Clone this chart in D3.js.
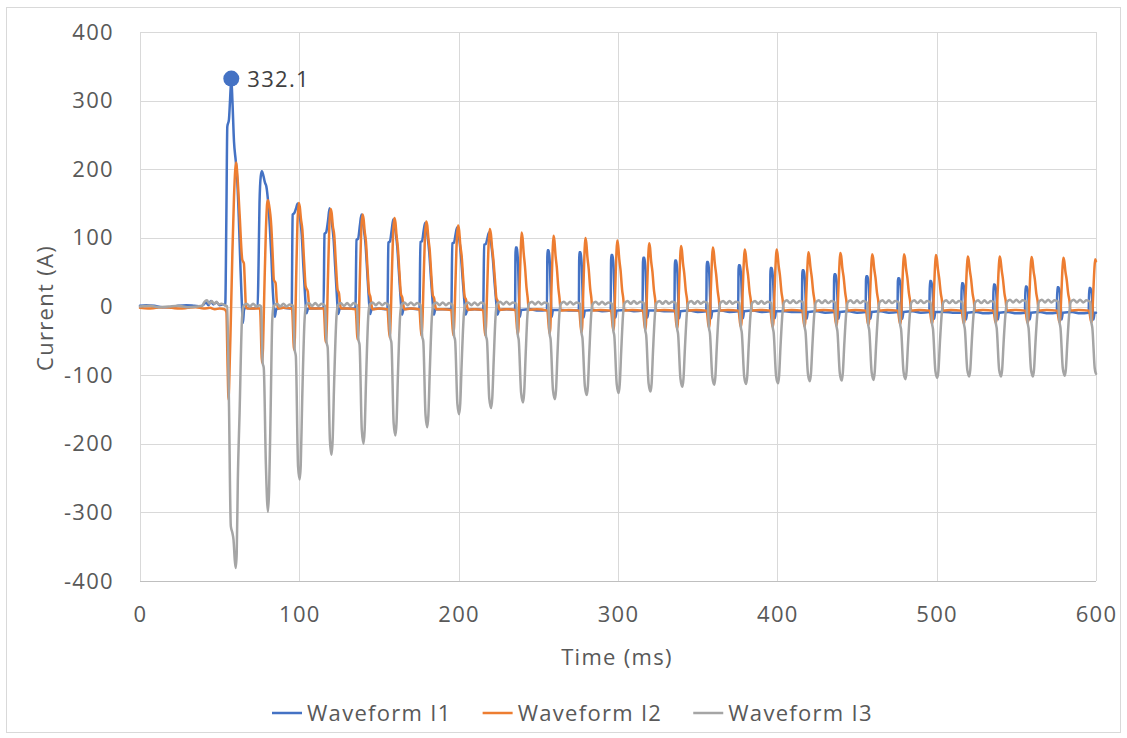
<!DOCTYPE html>
<html><head><meta charset="utf-8">
<script src="https://cdn.jsdelivr.net/npm/d3@7"></script>
<style>body{margin:0;background:#fff;} svg{display:block;font-family:"Open Sans",sans-serif;}</style>
</head><body><svg id="c" width="1127" height="738"></svg>
<script>
const seriesNames = ["Waveform I1","Waveform I2","Waveform I3"];
const xTicks = [0,100,200,300,400,500,600];
const yTicks = [-400,-300,-200,-100,0,100,200,300,400];
const peakPoint = [57.3, 332.1];

const i1 = [[0,1],[4,2],[9,1],[14,-1],[19,-1],[24,1],[29,2],[34,1],[38,0],[40,3],[41.5,6],[43,2],[44.5,8],[46,3],[48,6],[50,2],[52,3],[53.5,2],
[54.2,130],[54.8,262],[55.8,272],[56.5,300],[57.3,332.1],[58,300],[59,240],[60.1,212],[61,185],[62,130],[63,60],[64,0],[64.6,-24],[65.3,-5],[66.5,-2],[70,-3],[73.8,-2],
[74.4,60],[75,150],[75.8,190],[76.5,197],[77.5,190],[78.5,180],[79.3,175],[80.5,150],[81.5,115],[82.5,70],[83.3,25],[84,0],[84.6,-15],[85.5,-4],[90,-2],[95.2,-3],
[95.8,134],[96.8,136],[97.8,142],[99,150],[100.5,128],[101.5,105],[102.5,60],[103.5,20],[104.5,-10],[105.5,-3],[110,-3],[115.2,-2],
[115.8,106],[116.8,108],[118,125],[119,143],[120.5,120],[121.5,98],[122.5,58],[123.5,18],[124.4,-11],[125.4,-3],[130,-3],[135.2,-3],
[135.9,97],[136.9,99],[138,118],[139,134],[140.5,112],[141.5,92],[142.5,55],[143.5,16],[144.4,-11],[145.4,-4],[150,-3],[155.3,-4],
[155.9,93],[156.9,95],[158,112],[159,127],[160.5,107],[161.5,86],[162.5,50],[163.5,14],[164.4,-12],[165.4,-4],[170,-3],[175.4,-4],
[176,94],[177,95],[178,110],[179,122],[180.5,102],[181.5,80],[182.5,45],[183.5,12],[184.4,-12],[185.4,-4],[190,-4],[195.4,-4],
[196,92],[197,93],[198,104],[199,115],[200.5,96],[201.5,72],[202.5,40],[203.5,10],[204.4,-12],[205.4,-5],[210,-4],[215.4,-5],
[216,90],[217,91],[218,99],[219,108],[220.5,90],[221.5,68],[222.5,36],[223.5,8],[224.4,-12],[225.4,-5],[230,-4],[235.4,-5],
[235.7,86],[236.5,86],[236.9,77],[237.3,62],[237.8,17],[238.4,-15],[239.2,-5],[245,-4],[250,-6],[255.4,-5],
[255.7,82],[256.5,82],[256.9,74],[257.3,59],[257.8,16],[258.4,-15],[259.2,-5],[265,-5],[270,-6],[275.4,-6],
[275.7,79],[276.5,79],[276.9,71],[277.3,57],[277.8,16],[278.4,-16],[279.2,-6],[285,-5],[290,-7],[295.4,-6],
[295.7,75],[296.5,75],[296.9,68],[297.3,54],[297.8,15],[298.4,-16],[299.2,-6],[305,-5],[310,-7],[315.4,-6],
[315.7,71],[316.5,71],[316.9,64],[317.3,51],[317.8,14],[318.4,-16],[319.2,-6],[325,-6],[330,-7],[335.4,-7],
[335.7,67],[336.5,67],[336.9,60],[337.3,48],[337.8,13],[338.4,-17],[339.2,-7],[345,-6],[350,-8],[355.4,-7],
[355.7,65],[356.5,65],[356.9,58],[357.3,47],[357.8,13],[358.4,-17],[359.2,-7],[365,-6],[370,-8],[375.4,-7],
[375.7,60],[376.5,60],[376.9,54],[377.3,43],[377.8,12],[378.4,-17],[379.2,-7],[385,-6],[390,-8],[395.4,-7],
[395.7,56],[396.5,56],[396.9,50],[397.3,40],[397.8,11],[398.4,-17],[399.2,-7],[405,-7],[410,-8],[415.4,-8],
[415.7,53],[416.5,53],[416.9,48],[417.3,38],[417.8,10],[418.4,-18],[419.2,-8],[425,-7],[430,-9],[435.4,-8],
[435.7,47],[436.5,47],[436.9,42],[437.3,34],[437.8,9],[438.4,-18],[439.2,-8],[445,-7],[450,-9],[455.4,-8],
[455.7,44],[456.5,44],[456.9,40],[457.3,32],[457.8,8],[458.4,-18],[459.2,-8],[465,-7],[470,-9],[475.4,-8],
[475.7,41],[476.5,41],[476.9,37],[477.3,30],[477.8,7],[478.4,-18],[479.2,-8],[485,-7],[490,-9],[495.4,-8],
[495.7,37],[496.5,37],[496.9,33],[497.3,27],[497.8,6],[498.4,-18],[499.2,-8],[505,-8],[510,-9],[515.4,-9],
[515.7,34],[516.5,34],[516.9,31],[517.3,24],[517.8,5],[518.4,-19],[519.2,-9],[525,-8],[530,-10],[535.4,-9],
[535.7,32],[536.5,32],[536.9,29],[537.3,23],[537.8,5],[538.4,-19],[539.2,-9],[545,-8],[550,-10],[555.4,-9],
[555.7,29],[556.5,29],[556.9,26],[557.3,21],[557.8,4],[558.4,-19],[559.2,-9],[565,-8],[570,-10],[575.4,-9],
[575.7,28],[576.5,28],[576.9,25],[577.3,20],[577.8,4],[578.4,-19],[579.2,-9],[585,-8],[590,-10],[595.4,-9],
[595.7,27],[596.5,27],[596.9,24],[597.3,19],[597.8,4],[598.4,-19],[599.2,-9],[600,-9]];

const i2 = [[0,-2],[5,-3],[10,-2],[15,-1],[20,-2],[25,-3],[30,-2],[35,-1],[40,-3],[44,-2],[47,-4],[50,-3],[53,-4],[54.2,-8],
[55,-90],[55.6,-136],[56,-110],[57,-20],[58,80],[59,160],[59.8,200],[60.4,210],[61,195],[62.5,135],[64.2,68],[65.2,63],[65.8,35],[66.5,0],[67.2,-3],[70,-3],[75.3,-3],
[76.6,-82],[77.2,-60],[78,20],[79,110],[79.8,150],[80.3,155],[81,148],[82.4,117],[83.4,68],[84,39],[85.1,34],[85.8,10],[86.6,-3],[90,-2],[95.4,-3],
[96.7,-63],[97.2,-45],[98,40],[98.8,120],[99.6,151],[100.3,145],[101,128],[101.9,112],[103,65],[104,29],[105.3,22],[106,5],[106.6,-3],[110,-3],[115.3,-3],
[116.6,-52],[117.1,-38],[118,45],[118.8,115],[119.6,142],[120.3,136],[121,118],[121.9,104],[123,60],[124,25],[124.9,19],[125.6,3],[126.2,-3],[130,-3],[135.3,-4],
[136.6,-48],[137.1,-35],[138,42],[138.8,108],[139.6,134],[140.3,128],[141,110],[141.8,95],[142.8,55],[143.8,20],[144.6,14],[145.3,2],[145.9,-4],[150,-3],[155.3,-4],
[156.6,-45],[157.1,-33],[158,40],[158.8,104],[159.6,129],[160.3,123],[161,104],[161.8,87],[162.8,50],[163.8,18],[164.6,13],[165.3,2],[165.9,-4],[170,-3],[175.3,-4],
[176.6,-43],[177.1,-31],[178,38],[178.8,100],[179.6,124],[180.3,118],[181,99],[181.8,83],[182.8,47],[183.8,16],[184.6,12],[185.3,1],[185.9,-4],[190,-4],[195.3,-5],
[196.6,-42],[197.1,-30],[198,36],[198.8,95],[199.6,118],[200.3,111],[201,90],[201.9,73],[202.8,42],[203.8,14],[204.6,10],[205.3,0],[205.9,-5],[210,-4],[215.3,-5],
[216.6,-42],[217.1,-30],[218,34],[218.8,91],[219.5,113],[220.2,106],[221,85],[221.8,68],[222.8,38],[223.7,12],[224.5,8],[225.2,-1],[225.8,-5],[230,-4],[235.6,-5],
[237,-41],[237.5,-33],[238.3,32],[239,86],[239.5,108],[240.1,100],[240.8,78],[241.6,59],[242.6,27],[243.3,13],[244,-5],[249,-4],[255.6,-6],
[257,-40],[257.5,-32],[258.3,31],[259,82],[259.5,103],[260.1,96],[260.8,74],[261.6,57],[262.6,26],[263.3,12],[264,-6],[269,-5],[275.6,-6],
[277,-38],[277.5,-30],[278.3,30],[279,80],[279.5,100],[280.1,93],[280.8,72],[281.6,55],[282.6,25],[283.3,12],[284,-6],[289,-5],[295.6,-6],
[297,-35],[297.5,-28],[298.3,29],[299,77],[299.5,96],[300.1,89],[300.8,69],[301.6,53],[302.6,24],[303.3,12],[304,-6],[309,-5],[315.6,-6],
[317,-34],[317.5,-27],[318.3,28],[319,74],[319.5,92],[320.1,86],[320.8,66],[321.6,51],[322.6,23],[323.3,11],[324,-6],[329,-5],[335.6,-6],
[337,-32],[337.5,-26],[338.3,26],[339,70],[339.5,88],[340.1,82],[340.8,63],[341.6,48],[342.6,22],[343.3,11],[344,-6],[349,-5],[355.6,-6],
[357,-31],[357.5,-25],[358.3,26],[359,69],[359.5,86],[360.1,80],[360.8,62],[361.6,47],[362.6,22],[363.3,10],[364,-6],[369,-5],[375.6,-6],
[377,-30],[377.5,-24],[378.3,25],[379,66],[379.5,83],[380.1,77],[380.8,60],[381.6,46],[382.6,21],[383.3,10],[384,-6],[389,-5],[395.6,-6],
[397,-30],[397.5,-24],[398.3,25],[399,66],[399.5,83],[400.1,77],[400.8,60],[401.6,46],[402.6,21],[403.3,10],[404,-6],[409,-5],[415.6,-6],
[417,-29],[417.5,-23],[418.3,24],[419,63],[419.5,79],[420.1,73],[420.8,57],[421.6,43],[422.6,20],[423.3,9],[424,-6],[429,-5],[435.6,-6],
[437,-28],[437.5,-22],[438.3,23],[439,62],[439.5,78],[440.1,73],[440.8,56],[441.6,43],[442.6,20],[443.3,9],[444,-6],[449,-5],[455.6,-6],
[457,-27],[457.5,-22],[458.3,23],[459,61],[459.5,76],[460.1,71],[460.8,55],[461.6,42],[462.6,19],[463.3,9],[464,-6],[469,-5],[475.6,-6],
[477,-26],[477.5,-21],[478.3,23],[479,61],[479.5,76],[480.1,71],[480.8,55],[481.6,42],[482.6,19],[483.3,9],[484,-6],[489,-5],[495.6,-6],
[497,-25],[497.5,-20],[498.3,22],[499,60],[499.5,75],[500.1,70],[500.8,54],[501.6,41],[502.6,19],[503.3,9],[504,-6],[509,-5],[515.6,-6],
[517,-25],[517.5,-20],[518.3,22],[519,58],[519.5,73],[520.1,68],[520.8,53],[521.6,40],[522.6,18],[523.3,9],[524,-6],[529,-5],[535.6,-6],
[537,-24],[537.5,-19],[538.3,22],[539,58],[539.5,73],[540.1,68],[540.8,53],[541.6,40],[542.6,18],[543.3,9],[544,-6],[549,-5],[555.6,-6],
[557,-24],[557.5,-19],[558.3,22],[559,58],[559.5,72],[560.1,67],[560.8,52],[561.6,40],[562.6,18],[563.3,9],[564,-6],[569,-5],[575.6,-6],
[577,-23],[577.5,-18],[578.3,21],[579,57],[579.5,71],[580.1,66],[580.8,51],[581.6,39],[582.6,18],[583.3,9],[584,-6],[589,-5],[595.6,-6],
[597,-23],[597.5,-18],[598.3,21],[599,55],[599.5,69],[600,66]];

const i3 = [[0,0],[6,1],[12,-1],[18,0],[24,1],[30,-1],[36,0],[39,1],[40.5,7],[42,9],[43.5,4],[45,8],[46.5,4],[48,7],[49.5,3],[51,4],[53,2],[54.7,0],
[55.8,-136],[57,-320],[58,-330],[58.7,-340],[59.5,-370],[60.1,-381],[60.7,-360],[61.4,-253],[62.5,-155],[63.9,-24],[64.6,-3],[65.3,2],[67,4],[69,0],[71,4],[73,0],[75,2],[76,0],
[77,-82],[77.7,-90],[79,-230],[80.3,-299],[81,-270],[82,-150],[83,-20],[83.8,0],[86,4],[88,0],[90,4],[92,0],[94,3],[96.1,1],
[97.1,-63],[97.8,-72],[99.2,-233],[100.2,-252],[100.9,-230],[101.8,-136],[103.3,-19],[104.2,1],[106,5],[108,1],[110,5],[112,1],[114,4],[116.1,1],
[117.1,-52],[117.8,-60],[119.2,-195],[120.2,-216],[120.9,-195],[121.8,-115],[123.3,-15],[124.2,2],[126,5],[128,1],[130,5],[132,1],[134,5],[136.1,2],
[137.1,-48],[137.8,-56],[139.2,-180],[140.3,-200],[141,-180],[141.9,-105],[143.3,-13],[144.2,3],[146,6],[148,2],[150,6],[152,2],[154,5],[156.1,2],
[157.1,-45],[157.8,-53],[159.2,-170],[160.3,-188],[161,-170],[161.9,-98],[163.3,-12],[164.2,3],[166,6],[168,2],[170,6],[172,2],[174,5],[176.1,2],
[177.1,-43],[177.8,-51],[179.2,-158],[180.3,-176],[181,-158],[181.9,-92],[183.3,-11],[184.2,3],[186,6],[188,2],[190,6],[192,2],[194,5],[196.1,2],
[197.1,-42],[197.8,-50],[199.2,-142],[200.3,-157],[201,-141],[201.9,-82],[203.3,-10],[204.2,3],[206,6],[208,2],[210,6],[212,2],[214,6],[216.2,3],
[217.1,-42],[217.8,-50],[219.2,-134],[220.4,-148],[221.1,-133],[222,-78],[223.3,-9],[224.2,4],[226,7],[228,3],[230,7],[232,3],[234,6],[236.2,4],
[237.1,-41],[237.7,-49],[239.2,-126],[240.4,-140],[241.1,-126],[242,-73],[243.3,-8],[244.2,4],[246,7],[248,3],[250,7],[252,3],[254,6],[256.2,4],
[257.1,-40],[257.7,-48],[259.2,-122],[260.4,-135],[261.1,-122],[262,-70],[263.3,-8],[264.2,4],[266,7],[268,3],[270,7],[272,3],[274,6],[276.2,4],
[277.1,-38],[277.7,-46],[279.2,-116],[280.4,-129],[281.1,-116],[282,-67],[283.3,-8],[284.2,4],[286,7],[288,3],[290,7],[292,3],[294,6],[296.2,4],
[297.1,-35],[297.7,-43],[299.2,-113],[300.4,-126],[301.1,-113],[302,-66],[303.3,-8],[304.2,5],[306,8],[308,4],[310,8],[312,4],[314,7],[316.2,5],
[317.1,-34],[317.7,-42],[319.2,-112],[320.4,-124],[321.1,-112],[322,-64],[323.3,-8],[324.2,5],[326,8],[328,4],[330,8],[332,4],[334,7],[336.2,5],
[337.1,-32],[337.7,-40],[339.2,-105],[340.4,-117],[341.1,-105],[342,-61],[343.3,-8],[344.2,5],[346,8],[348,4],[350,8],[352,4],[354,7],[356.2,5],
[357.1,-31],[357.7,-39],[359.2,-103],[360.4,-114],[361.1,-103],[362,-59],[363.3,-8],[364.2,5],[366,8],[368,4],[370,8],[372,4],[374,7],[376.2,5],
[377.1,-30],[377.7,-38],[379.2,-102],[380.4,-113],[381.1,-102],[382,-59],[383.3,-8],[384.2,5],[386,8],[388,4],[390,8],[392,4],[394,7],[396.2,5],
[397.1,-30],[397.7,-38],[399.2,-101],[400.4,-112],[401.1,-101],[402,-58],[403.3,-8],[404.2,6],[406,9],[408,5],[410,9],[412,5],[414,8],[416.2,6],
[417.1,-29],[417.7,-37],[419.2,-98],[420.4,-109],[421.1,-98],[422,-57],[423.3,-8],[424.2,6],[426,9],[428,5],[430,9],[432,5],[434,8],[436.2,6],
[437.1,-28],[437.7,-36],[439.2,-97],[440.4,-108],[441.1,-97],[442,-56],[443.3,-8],[444.2,6],[446,9],[448,5],[450,9],[452,5],[454,8],[456.2,6],
[457.1,-27],[457.7,-35],[459.2,-96],[460.4,-107],[461.1,-96],[462,-56],[463.3,-8],[464.2,6],[466,9],[468,5],[470,9],[472,5],[474,8],[476.2,6],
[477.1,-26],[477.7,-34],[479.2,-95],[480.4,-106],[481.1,-95],[482,-55],[483.3,-8],[484.2,6],[486,9],[488,5],[490,9],[492,5],[494,8],[496.2,6],
[497.1,-25],[497.7,-33],[499.2,-94],[500.4,-104],[501.1,-94],[502,-54],[503.3,-8],[504.2,6],[506,9],[508,5],[510,9],[512,5],[514,8],[516.2,6],
[517.1,-25],[517.7,-33],[519.2,-92],[520.4,-102],[521.1,-92],[522,-53],[523.3,-8],[524.2,6],[526,9],[528,5],[530,9],[532,5],[534,8],[536.2,6],
[537.1,-24],[537.7,-32],[539.2,-92],[540.4,-102],[541.1,-92],[542,-53],[543.3,-8],[544.2,7],[546,10],[548,6],[550,10],[552,6],[554,9],[556.2,7],
[557.1,-24],[557.7,-32],[559.2,-92],[560.4,-102],[561.1,-92],[562,-53],[563.3,-8],[564.2,7],[566,10],[568,6],[570,10],[572,6],[574,9],[576.2,7],
[577.1,-23],[577.7,-31],[579.2,-91],[580.4,-101],[581.1,-91],[582,-53],[583.3,-8],[584.2,7],[586,10],[588,6],[590,10],[592,6],[594,9],[596.2,7],
[597.1,-23],[597.7,-31],[599.2,-90],[600,-98]];

const seriesData = [i1, i2, i3];
const colors = ["#4472C4", "#ED7D31", "#A5A5A5"];

const svg = d3.select("#c");
const x = d3.scaleLinear().domain([0, 600]).range([140, 1096]);
const y = d3.scaleLinear().domain([-400, 400]).range([581, 32]);
const FS = 22, LS = "1.3px", TXT = "#595959";
const fmt = d => String(d);

svg.append("rect").attr("x", 6.5).attr("y", 7.5).attr("width", 1114).attr("height", 725)
  .attr("fill", "#fff").attr("stroke", "#d9d9d9");

const grid = svg.append("g").attr("stroke", "#d9d9d9").attr("stroke-width", 1);
grid.selectAll("line.h").data(yTicks).join("line").attr("class", "h")
  .attr("x1", x(0)).attr("x2", x(600))
  .attr("y1", d => Math.round(y(d)) + 0.5).attr("y2", d => Math.round(y(d)) + 0.5);
grid.selectAll("line.v").data(xTicks).join("line").attr("class", "v")
  .attr("y1", y(400)).attr("y2", y(-400))
  .attr("x1", d => Math.round(x(d)) + 0.5).attr("x2", d => Math.round(x(d)) + 0.5);
svg.append("line").attr("x1", x(0)).attr("x2", x(600))
  .attr("y1", Math.round(y(-400)) + 0.5).attr("y2", Math.round(y(-400)) + 0.5)
  .attr("stroke", "#bfbfbf");

const yAxis = svg.append("g").attr("transform", `translate(${x(0)},0)`)
  .call(d3.axisLeft(y).tickValues(yTicks).tickSize(0).tickPadding(26).tickFormat(fmt));
const xAxis = svg.append("g").attr("transform", `translate(0,${y(-400)})`)
  .call(d3.axisBottom(x).tickValues(xTicks).tickSize(0).tickPadding(25).tickFormat(fmt));
[yAxis, xAxis].forEach(g => {
  g.select(".domain").remove();
  g.selectAll("text").attr("font-family", '"Open Sans",sans-serif').attr("font-size", FS)
    .attr("fill", TXT).style("letter-spacing", LS);
});

svg.append("text").attr("x", 617).attr("y", 665).attr("text-anchor", "middle")
  .attr("font-size", FS).attr("fill", TXT).style("letter-spacing", LS).text("Time (ms)");
svg.append("text").attr("transform", "translate(53,308) rotate(-90)").attr("text-anchor", "middle")
  .attr("font-size", FS).attr("fill", TXT).style("letter-spacing", LS).text("Current (A)");

const line = d3.line().x(d => x(d[0])).y(d => y(d[1])).curve(d3.curveMonotoneX);
svg.append("g").selectAll("path").data(seriesData).join("path")
  .attr("d", line).attr("fill", "none")
  .attr("stroke", (d, i) => colors[i]).attr("stroke-width", 2.5)
  .attr("stroke-linejoin", "round").attr("stroke-linecap", "round");

svg.append("circle").attr("cx", x(peakPoint[0])).attr("cy", y(peakPoint[1])).attr("r", 8)
  .attr("fill", colors[0]);
svg.append("text").attr("x", x(peakPoint[0]) + 16).attr("y", y(peakPoint[1]) + 8)
  .attr("font-size", FS).attr("fill", "#404040").style("letter-spacing", LS)
  .text(d3.format(".1f")(peakPoint[1]));

// legend
const leg = svg.append("g");
let lx = 272;
const ly = 713;
seriesNames.forEach((name, i) => {
  leg.append("line").attr("x1", lx).attr("x2", lx + 30).attr("y1", ly).attr("y2", ly)
    .attr("stroke", colors[i]).attr("stroke-width", 2.5);
  const t = leg.append("text").attr("x", lx + 35).attr("y", ly + 8)
    .attr("font-size", FS).attr("fill", TXT).style("letter-spacing", LS).text(name);
  const w = t.node().getComputedTextLength();
  lx += 35 + w + 31;
});
</script></body></html>
